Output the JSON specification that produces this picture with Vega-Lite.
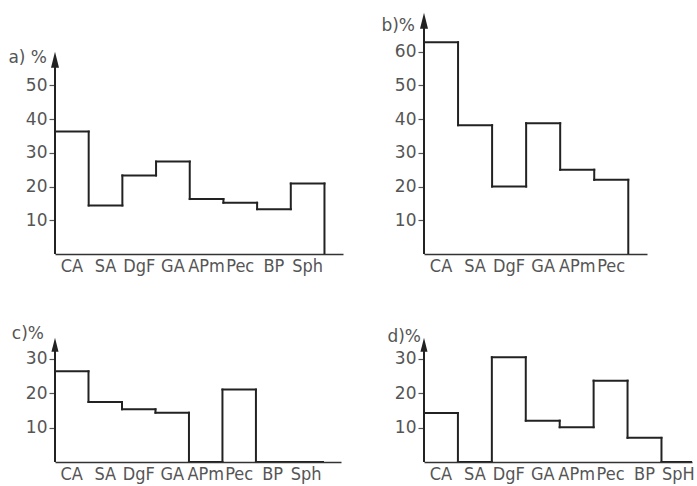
{
  "$schema": "https://vega.github.io/schema/vega-lite/v6.json",
  "background": "white",
  "padding": {"left": 8, "top": 12, "right": 2, "bottom": 2},
  "config": {
    "view": {"stroke": null},
    "font": "DejaVu Sans",
    "axis": {"grid": false, "title": null, "labelColor": "#555", "domainColor": "#333", "tickColor": "#555"},
    "axisX": {"ticks": false, "labels": false, "domainWidth": 1.5},
    "axisY": {"domain": false, "tickSize": 6, "tickWidth": 1.2, "labelFont": "DejaVu Sans", "labelFontSize": 17, "labelPadding": 2, "labelOverlap": false}
  },
  "datasets": {
    "a": [
      {"taxon": "CA", "lo": 0, "hi": 1, "v": 36.3},
      {"taxon": "SA", "lo": 1, "hi": 2, "v": 14.4},
      {"taxon": "DgF", "lo": 2, "hi": 3, "v": 23.3},
      {"taxon": "GA", "lo": 3, "hi": 4, "v": 27.4},
      {"taxon": "APm", "lo": 4, "hi": 5, "v": 16.3},
      {"taxon": "Pec", "lo": 5, "hi": 6, "v": 15.2},
      {"taxon": "BP", "lo": 6, "hi": 7, "v": 13.3},
      {"taxon": "Sph", "lo": 7, "hi": 8, "v": 20.9}
    ],
    "b": [
      {"taxon": "CA", "lo": 0, "hi": 1, "v": 62.8},
      {"taxon": "SA", "lo": 1, "hi": 2, "v": 38.2},
      {"taxon": "DgF", "lo": 2, "hi": 3, "v": 20.0},
      {"taxon": "GA", "lo": 3, "hi": 4, "v": 38.8},
      {"taxon": "APm", "lo": 4, "hi": 5, "v": 25.0},
      {"taxon": "Pec", "lo": 5, "hi": 6, "v": 22.0}
    ],
    "c": [
      {"taxon": "CA", "lo": 0, "hi": 1, "v": 26.3},
      {"taxon": "SA", "lo": 1, "hi": 2, "v": 17.4},
      {"taxon": "DgF", "lo": 2, "hi": 3, "v": 15.3},
      {"taxon": "GA", "lo": 3, "hi": 4, "v": 14.3},
      {"taxon": "APm", "lo": 4, "hi": 5, "v": 0},
      {"taxon": "Pec", "lo": 5, "hi": 6, "v": 21.0},
      {"taxon": "BP", "lo": 6, "hi": 7, "v": 0},
      {"taxon": "Sph", "lo": 7, "hi": 8, "v": 0}
    ],
    "d": [
      {"taxon": "CA", "lo": 0, "hi": 1, "v": 14.2},
      {"taxon": "SA", "lo": 1, "hi": 2, "v": 0},
      {"taxon": "DgF", "lo": 2, "hi": 3, "v": 30.4},
      {"taxon": "GA", "lo": 3, "hi": 4, "v": 12.0},
      {"taxon": "APm", "lo": 4, "hi": 5, "v": 10.1},
      {"taxon": "Pec", "lo": 5, "hi": 6, "v": 23.6},
      {"taxon": "BP", "lo": 6, "hi": 7, "v": 7.0},
      {"taxon": "SpH", "lo": 7, "hi": 8, "v": 0}
    ]
  },
  "columns": 2,
  "spacing": {"row": 77, "column": 81},
  "bounds": "flush",
  "concat": [
    {
      "width": 288, "height": 236,
      "data": {"name": "a"},
      "layer": [
        {"mark": {"type": "rule", "color": "#222", "strokeWidth": 2, "strokeCap": "square", "clip": true},
         "encoding": {
           "x": {"field": "lo", "type": "quantitative", "scale": {"domain": [0, 8.55], "nice": false, "zero": false}},
           "x2": {"field": "hi"},
           "y": {"field": "v", "type": "quantitative", "scale": {"domain": [0, 70], "nice": false}, "axis": {"values": [10, 20, 30, 40, 50]}}
         }},
        {"transform": [{"window": [{"op": "lead", "field": "v", "as": "vn"}], "sort": [{"field": "lo"}]}, {"calculate": "datum.vn == null ? 0 : datum.vn", "as": "vn"}],
         "mark": {"type": "rule", "color": "#222", "strokeWidth": 2, "strokeCap": "square", "clip": true},
         "encoding": {"x": {"field": "hi", "type": "quantitative"}, "y": {"field": "v", "type": "quantitative"}, "y2": {"field": "vn"}}},
        {"transform": [{"calculate": "(datum.lo + datum.hi) / 2", "as": "mid"}],
         "mark": {"type": "text", "baseline": "top", "dy": 4, "font": "DejaVu Sans Condensed, Liberation Sans", "fontSize": 18, "color": "#555"},
         "encoding": {"x": {"field": "mid", "type": "quantitative"}, "y": {"datum": 0}, "text": {"field": "taxon"}}},
        {"data": {"values": [{}]}, "mark": {"type": "rule", "color": "#222", "strokeWidth": 2}, "encoding": {"x": {"datum": 0}, "y": {"datum": 0}, "y2": {"datum": 57}}},
        {"data": {"values": [{}]}, "mark": {"type": "point", "shape": "M0,-1L0.5,1L-0.5,1Z", "filled": true, "color": "#222", "size": 256, "opacity": 1}, "encoding": {"x": {"datum": 0}, "y": {"datum": 57.6}}},
        {"data": {"values": [{}]}, "mark": {"type": "text", "align": "right", "baseline": "middle", "dx": -8, "fontSize": 17, "color": "#555"}, "encoding": {"x": {"datum": 0}, "y": {"datum": 58.2}, "text": {"value": "a) %"}}}
      ]
    },
    {
      "width": 223, "height": 236,
      "data": {"name": "b"},
      "layer": [
        {"mark": {"type": "rule", "color": "#222", "strokeWidth": 2, "strokeCap": "square", "clip": true},
         "encoding": {
           "x": {"field": "lo", "type": "quantitative", "scale": {"domain": [0, 6.55], "nice": false, "zero": false}},
           "x2": {"field": "hi"},
           "y": {"field": "v", "type": "quantitative", "scale": {"domain": [0, 70], "nice": false}, "axis": {"values": [10, 20, 30, 40, 50, 60]}}
         }},
        {"transform": [{"window": [{"op": "lead", "field": "v", "as": "vn"}], "sort": [{"field": "lo"}]}, {"calculate": "datum.vn == null ? 0 : datum.vn", "as": "vn"}],
         "mark": {"type": "rule", "color": "#222", "strokeWidth": 2, "strokeCap": "square", "clip": true},
         "encoding": {"x": {"field": "hi", "type": "quantitative"}, "y": {"field": "v", "type": "quantitative"}, "y2": {"field": "vn"}}},
        {"transform": [{"calculate": "(datum.lo + datum.hi) / 2", "as": "mid"}],
         "mark": {"type": "text", "baseline": "top", "dy": 4, "font": "DejaVu Sans Condensed, Liberation Sans", "fontSize": 18, "color": "#555"},
         "encoding": {"x": {"field": "mid", "type": "quantitative"}, "y": {"datum": 0}, "text": {"field": "taxon"}}},
        {"data": {"values": [{}]}, "mark": {"type": "rule", "color": "#222", "strokeWidth": 2}, "encoding": {"x": {"datum": 0}, "y": {"datum": 0}, "y2": {"datum": 68.8}}},
        {"data": {"values": [{}]}, "mark": {"type": "point", "shape": "M0,-1L0.5,1L-0.5,1Z", "filled": true, "color": "#222", "size": 256, "opacity": 1}, "encoding": {"x": {"datum": 0}, "y": {"datum": 69.2}}},
        {"data": {"values": [{}]}, "mark": {"type": "text", "align": "right", "baseline": "middle", "dx": -9, "fontSize": 17, "color": "#555"}, "encoding": {"x": {"datum": 0}, "y": {"datum": 67.5}, "text": {"value": "b)%"}}}
      ]
    },
    {
      "width": 286, "height": 131,
      "data": {"name": "c"},
      "layer": [
        {"mark": {"type": "rule", "color": "#222", "strokeWidth": 2, "strokeCap": "square", "clip": true},
         "encoding": {
           "x": {"field": "lo", "type": "quantitative", "scale": {"domain": [0, 8.54], "nice": false, "zero": false}},
           "x2": {"field": "hi"},
           "y": {"field": "v", "type": "quantitative", "scale": {"domain": [0, 38], "nice": false}, "axis": {"values": [10, 20, 30]}}
         }},
        {"transform": [{"window": [{"op": "lead", "field": "v", "as": "vn"}], "sort": [{"field": "lo"}]}, {"calculate": "datum.vn == null ? 0 : datum.vn", "as": "vn"}],
         "mark": {"type": "rule", "color": "#222", "strokeWidth": 2, "strokeCap": "square", "clip": true},
         "encoding": {"x": {"field": "hi", "type": "quantitative"}, "y": {"field": "v", "type": "quantitative"}, "y2": {"field": "vn"}}},
        {"transform": [{"calculate": "(datum.lo + datum.hi) / 2", "as": "mid"}],
         "mark": {"type": "text", "baseline": "top", "dy": 4, "font": "DejaVu Sans Condensed, Liberation Sans", "fontSize": 18, "color": "#555"},
         "encoding": {"x": {"field": "mid", "type": "quantitative"}, "y": {"datum": 0}, "text": {"field": "taxon"}}},
        {"data": {"values": [{}]}, "mark": {"type": "rule", "color": "#222", "strokeWidth": 2}, "encoding": {"x": {"datum": 0}, "y": {"datum": 0}, "y2": {"datum": 33.5}}},
        {"data": {"values": [{}]}, "mark": {"type": "point", "shape": "M0,-1L0.5,1L-0.5,1Z", "filled": true, "color": "#222", "size": 200, "opacity": 1}, "encoding": {"x": {"datum": 0}, "y": {"datum": 34.0}}},
        {"data": {"values": [{}]}, "mark": {"type": "text", "align": "right", "baseline": "middle", "dx": -11, "fontSize": 17, "color": "#555"}, "encoding": {"x": {"datum": 0}, "y": {"datum": 37.0}, "text": {"value": "c)%"}}}
      ]
    },
    {
      "width": 268, "height": 131,
      "data": {"name": "d"},
      "layer": [
        {"mark": {"type": "rule", "color": "#222", "strokeWidth": 2, "strokeCap": "square", "clip": true},
         "encoding": {
           "x": {"field": "lo", "type": "quantitative", "scale": {"domain": [0, 7.9], "nice": false, "zero": false}},
           "x2": {"field": "hi"},
           "y": {"field": "v", "type": "quantitative", "scale": {"domain": [0, 38], "nice": false}, "axis": {"values": [10, 20, 30]}}
         }},
        {"transform": [{"window": [{"op": "lead", "field": "v", "as": "vn"}], "sort": [{"field": "lo"}]}, {"calculate": "datum.vn == null ? 0 : datum.vn", "as": "vn"}],
         "mark": {"type": "rule", "color": "#222", "strokeWidth": 2, "strokeCap": "square", "clip": true},
         "encoding": {"x": {"field": "hi", "type": "quantitative"}, "y": {"field": "v", "type": "quantitative"}, "y2": {"field": "vn"}}},
        {"transform": [{"calculate": "(datum.lo + datum.hi) / 2", "as": "mid"}],
         "mark": {"type": "text", "baseline": "top", "dy": 4, "font": "DejaVu Sans Condensed, Liberation Sans", "fontSize": 18, "color": "#555"},
         "encoding": {"x": {"field": "mid", "type": "quantitative"}, "y": {"datum": 0}, "text": {"field": "taxon"}}},
        {"data": {"values": [{}]}, "mark": {"type": "rule", "color": "#222", "strokeWidth": 2}, "encoding": {"x": {"datum": 0}, "y": {"datum": 0}, "y2": {"datum": 33.5}}},
        {"data": {"values": [{}]}, "mark": {"type": "point", "shape": "M0,-1L0.5,1L-0.5,1Z", "filled": true, "color": "#222", "size": 200, "opacity": 1}, "encoding": {"x": {"datum": 0}, "y": {"datum": 34.0}}},
        {"data": {"values": [{}]}, "mark": {"type": "text", "align": "right", "baseline": "middle", "dx": -3, "fontSize": 17, "color": "#555"}, "encoding": {"x": {"datum": 0}, "y": {"datum": 36.4}, "text": {"value": "d)%"}}}
      ]
    }
  ]
}
